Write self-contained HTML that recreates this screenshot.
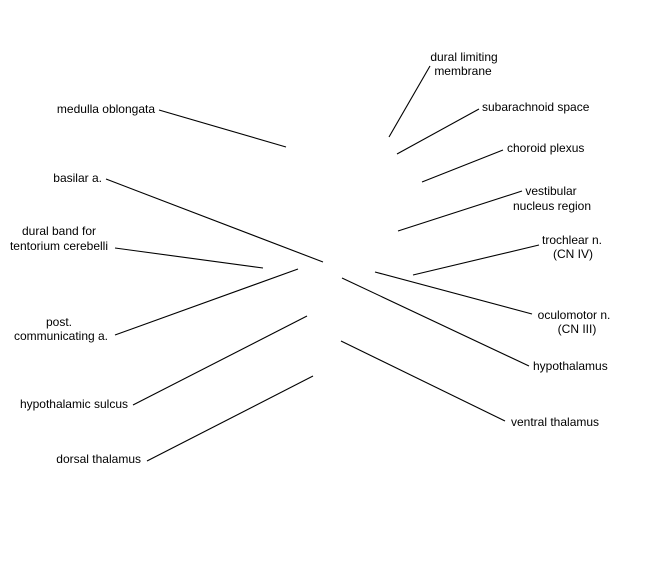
<!DOCTYPE html>
<html>
<head>
<meta charset="utf-8">
<style>
  html, body { margin: 0; padding: 0; background: #ffffff; }
  body { width: 650px; height: 580px; overflow: hidden; }
  svg { display: block; }
  text { font-family: "Liberation Sans", Arial, sans-serif; font-size: 12px; fill: #000; }
  line { stroke: #000; stroke-width: 1.1; }
</style>
</head>
<body>
<svg width="650" height="580" viewBox="0 0 650 580" xmlns="http://www.w3.org/2000/svg">
  <rect x="0" y="0" width="650" height="580" fill="#ffffff"/>

  <!-- Left-side leader lines -->
  <line x1="159" y1="110" x2="286" y2="147"/>
  <line x1="106" y1="179" x2="323" y2="262"/>
  <line x1="115" y1="248" x2="263" y2="268"/>
  <line x1="115" y1="335" x2="298" y2="269"/>
  <line x1="133" y1="405" x2="307" y2="316"/>
  <line x1="147" y1="461" x2="313" y2="376"/>

  <!-- Right-side leader lines -->
  <line x1="389" y1="137" x2="430" y2="66"/>
  <line x1="397" y1="154" x2="479" y2="109"/>
  <line x1="422" y1="182" x2="503" y2="150"/>
  <line x1="398" y1="231" x2="522" y2="191"/>
  <line x1="413" y1="275" x2="539" y2="245"/>
  <line x1="375" y1="272" x2="532" y2="314"/>
  <line x1="342" y1="278" x2="529" y2="366"/>
  <line x1="341" y1="341" x2="505" y2="421"/>

  <!-- Left labels -->
  <text x="155" y="113" text-anchor="end">medulla oblongata</text>
  <text x="102" y="182" text-anchor="end">basilar a.</text>
  <text x="59" y="235" text-anchor="middle">dural band for</text>
  <text x="59" y="250" text-anchor="middle">tentorium cerebelli</text>
  <text x="59" y="326" text-anchor="middle">post.</text>
  <text x="61" y="340" text-anchor="middle">communicating a.</text>
  <text x="128" y="408" text-anchor="end">hypothalamic sulcus</text>
  <text x="141" y="463" text-anchor="end">dorsal thalamus</text>

  <!-- Right labels -->
  <text x="464" y="61" text-anchor="middle">dural limiting</text>
  <text x="463" y="75" text-anchor="middle">membrane</text>
  <text x="482" y="111">subarachnoid space</text>
  <text x="507" y="152">choroid plexus</text>
  <text x="551" y="195" text-anchor="middle">vestibular</text>
  <text x="552" y="210" text-anchor="middle">nucleus region</text>
  <text x="572" y="244" text-anchor="middle">trochlear n.</text>
  <text x="573" y="258" text-anchor="middle">(CN IV)</text>
  <text x="574" y="319" text-anchor="middle">oculomotor n.</text>
  <text x="577" y="333" text-anchor="middle">(CN III)</text>
  <text x="533" y="370">hypothalamus</text>
  <text x="511" y="426">ventral thalamus</text>
</svg>
</body>
</html>
